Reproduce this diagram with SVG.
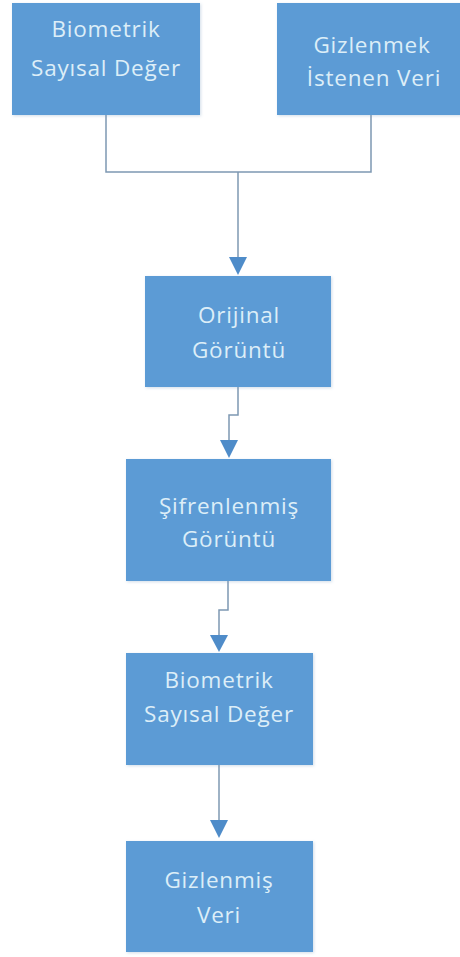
<svg xmlns="http://www.w3.org/2000/svg" width="460" height="957" viewBox="0 0 460 957">
<style>
.box{fill:#5B9BD5;}
.lbl{font-family:"Open Sans","Noto Sans",sans-serif;font-size:22.5px;fill:#DCEEF8;text-anchor:middle;letter-spacing:0.8px;}
.ln{fill:none;stroke:#7E98B2;stroke-width:1.5;}
.ar{fill:#4F8CC9;}
</style>
<defs>
<filter id="sh" x="-10%" y="-10%" width="120%" height="120%">
<feDropShadow dx="1" dy="1" stdDeviation="1.5" flood-color="#7f9fbf" flood-opacity="0.35"/>
</filter>
</defs>
<rect width="460" height="957" fill="#ffffff"/>
<g id="connectors">
<path class="ln" d="M106,115 V172 H371 V115"/>
<path class="ln" d="M238,172 V258"/>
<polygon class="ar" points="229,257 247,257 238,275"/>
<path class="ln" d="M238,387 V415 H229 V441"/>
<polygon class="ar" points="220,440 238,440 229,458"/>
<path class="ln" d="M228,581 V610 H219 V636"/>
<polygon class="ar" points="210,635 228,635 219,652"/>
<path class="ln" d="M219,765 V821"/>
<polygon class="ar" points="210,820 228,820 219,838"/>
</g>
<g id="n1">
<rect class="box" x="12" y="3" width="188" height="112" filter="url(#sh)"/>
<text class="lbl" x="106" y="37">Biometrik</text>
<text class="lbl" x="106" y="76">Sayısal Değer</text>
</g>
<g id="n2">
<rect class="box" x="277" y="3" width="190" height="112" filter="url(#sh)"/>
<text class="lbl" x="372" y="53">Gizlenmek</text>
<text class="lbl" x="374" y="86">İstenen Veri</text>
</g>
<g id="n3">
<rect class="box" x="145" y="276" width="186" height="111" filter="url(#sh)"/>
<text class="lbl" x="239" y="323">Orijinal</text>
<text class="lbl" x="239" y="358">Görüntü</text>
</g>
<g id="n4">
<rect class="box" x="126" y="459" width="205" height="122" filter="url(#sh)"/>
<text class="lbl" x="229" y="514">Şifrenlenmiş</text>
<text class="lbl" x="229" y="547">Görüntü</text>
</g>
<g id="n5">
<rect class="box" x="126" y="653" width="187" height="112" filter="url(#sh)"/>
<text class="lbl" x="219" y="688">Biometrik</text>
<text class="lbl" x="219" y="722">Sayısal Değer</text>
</g>
<g id="n6">
<rect class="box" x="126" y="841" width="187" height="111" filter="url(#sh)"/>
<text class="lbl" x="219" y="888">Gizlenmiş</text>
<text class="lbl" x="219" y="923">Veri</text>
</g>
</svg>
